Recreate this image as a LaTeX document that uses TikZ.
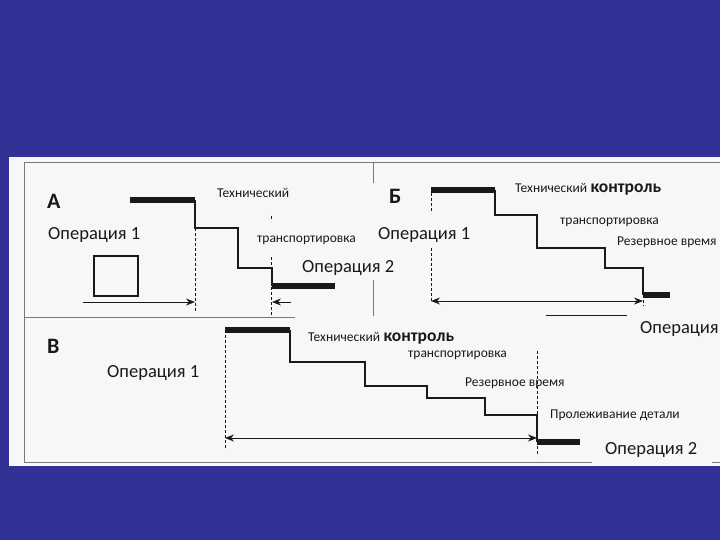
\documentclass[tikz,border=0pt]{standalone}
\usepackage{fontspec}
\setmainfont{Carlito}
\usetikzlibrary{arrows.meta}
\definecolor{bg}{RGB}{50,50,150}
\definecolor{paper}{RGB}{247,247,247}
\definecolor{framec}{RGB}{120,120,120}
\definecolor{ink}{RGB}{25,25,25}
\begin{document}
\begin{tikzpicture}[x=1pt,y=-1pt,
  big/.style={font=\fontsize{18.5}{20}\selectfont, anchor=base west, inner sep=0pt, text=ink},
  small/.style={font=\fontsize{13.5}{15}\selectfont, anchor=base west, inner sep=0pt, text=ink},
  letter/.style={font=\fontsize{22}{24}\selectfont\bfseries, anchor=base west, inner sep=0pt, text=ink},
  bar/.style={line width=6pt, ink},
  stepline/.style={line width=1.4pt, ink},
  guide/.style={dash pattern=on 3pt off 2pt, line width=1pt, ink},
  frm/.style={line width=1pt, framec},
  arr/.style={line width=1pt, ink, -{Stealth[length=9pt,width=7pt]}},
  darr/.style={line width=1pt, ink, {Stealth[length=9pt,width=7pt]}-{Stealth[length=9pt,width=7pt]}}]
\useasboundingbox (0,0) rectangle (720,540);
\fill[bg] (0,0) rectangle (720,540);
\fill[paper] (9,157) rectangle (720,466);
% frame lines
\draw[frm] (24,163) -- (24,463);
\draw[frm] (24,163) -- (720,163);
\draw[frm] (24,317) -- (295,317);
\draw[frm] (373,163) -- (373,183);
\draw[frm] (373,280) -- (373,316);
\draw[frm] (24,462) -- (592,462);
\draw[frm] (712,462) -- (720,462);

% ===== A =====
\node[letter] (la) at (47,208) {А};
\node[big] (a1) at (48,240) {Операция 1};
\node[small] (at) at (217,197) {Технический};
\node[small] (atr) at (257,242) {транспортировка};
\node[big] (a2) at (302,272) {Операция 2};
\coordinate (a0) at (130,200);
\coordinate (a3) at (195,200);
\coordinate (a4) at (272,286);
\coordinate (a5) at (335,286);
\draw[bar] (a0) -- (a3);
\draw[stepline] (a3) -- (195,228) -- (238,228) -- (238,268) -- (272,268) -- (a4);
\draw[bar] (a4) -- (a5);
\draw[guide] (195,228) -- (195,312);
\draw[guide] (271,216) -- (271,221);
\draw[guide] (271,257) -- (271,317);
\draw[ink, line width=1.2pt] (94,256) rectangle (138,296);
\coordinate (aa1) at (83,302);
\coordinate (aa2) at (195,302);
\coordinate (ab1) at (291,302);
\coordinate (ab2) at (272,302);
\draw[arr] (aa1) -- (aa2);
\draw[arr] (ab1) -- (ab2);

% ===== Б =====
\node[letter] (lb) at (389,204) {Б};
\node[big] (b1) at (378,240) {Операция 1};
\node[small] (bt) at (515,193) {Технический};
\node[font=\fontsize{17.5}{19}\selectfont\bfseries, anchor=base west, inner sep=0pt, text=ink] (bk) at (bt.base east) {\,контроль};
\node[small] (btr) at (560,225) {транспортировка};
\node[small] (brv) at (617,245) {Резервное время};
\node[big] (b2) at (640,333) {Операция};
\coordinate (b0) at (431,190);
\coordinate (b3) at (495,190);
\coordinate (b4) at (643,295);
\coordinate (b5) at (670,295);
\draw[bar] (b0) -- (b3);
\draw[stepline] (b3) -- (495,215) -- (537,215) -- (537,248) -- (605,248) -- (605,268) -- (643,268) -- (b4);
\draw[bar] (b4) -- (b5);
\draw[guide] (431,193) -- (431,213);
\draw[guide] (431,248) -- (431,302);
\draw[guide] (643,295) -- (643,306);
\coordinate (ba1) at (431,301);
\coordinate (ba2) at (643,301);
\draw[darr] (ba1) -- (ba2);
\draw[ink, line width=1pt] (546,315) -- (627,315);

% ===== В =====
\node[letter] (lc) at (47,353) {В};
\node[big] (c1) at (107,377) {Операция 1};
\node[small] (ct) at (308,341) {Технический};
\node[font=\fontsize{17.5}{19}\selectfont\bfseries, anchor=base west, inner sep=0pt, text=ink] (ck) at (ct.base east) {\,контроль};
\node[small] (ctr) at (408,357) {транспортировка};
\node[small] (crv) at (465,386) {Резервное время};
\node[small] (cpr) at (550,418) {Пролеживание детали};
\node[big] (c2) at (605,454) {Операция 2};
\coordinate (c0) at (225,330);
\coordinate (c3) at (290,330);
\coordinate (c4) at (537,442);
\coordinate (c5) at (580,442);
\draw[bar] (c0) -- (c3);
\draw[stepline] (c3) -- (290,362) -- (365,362) -- (365,386) -- (427,386) -- (427,398) -- (485,398) -- (485,415) -- (537,415) -- (c4);
\draw[bar] (c4) -- (c5);
\draw[guide] (225,330) -- (225,450);
\draw[guide] (537,351) -- (537,456);
\coordinate (ca1) at (225,438);
\coordinate (ca2) at (537,438);
\draw[darr] (ca1) -- (ca2);
\end{tikzpicture}
\end{document}
